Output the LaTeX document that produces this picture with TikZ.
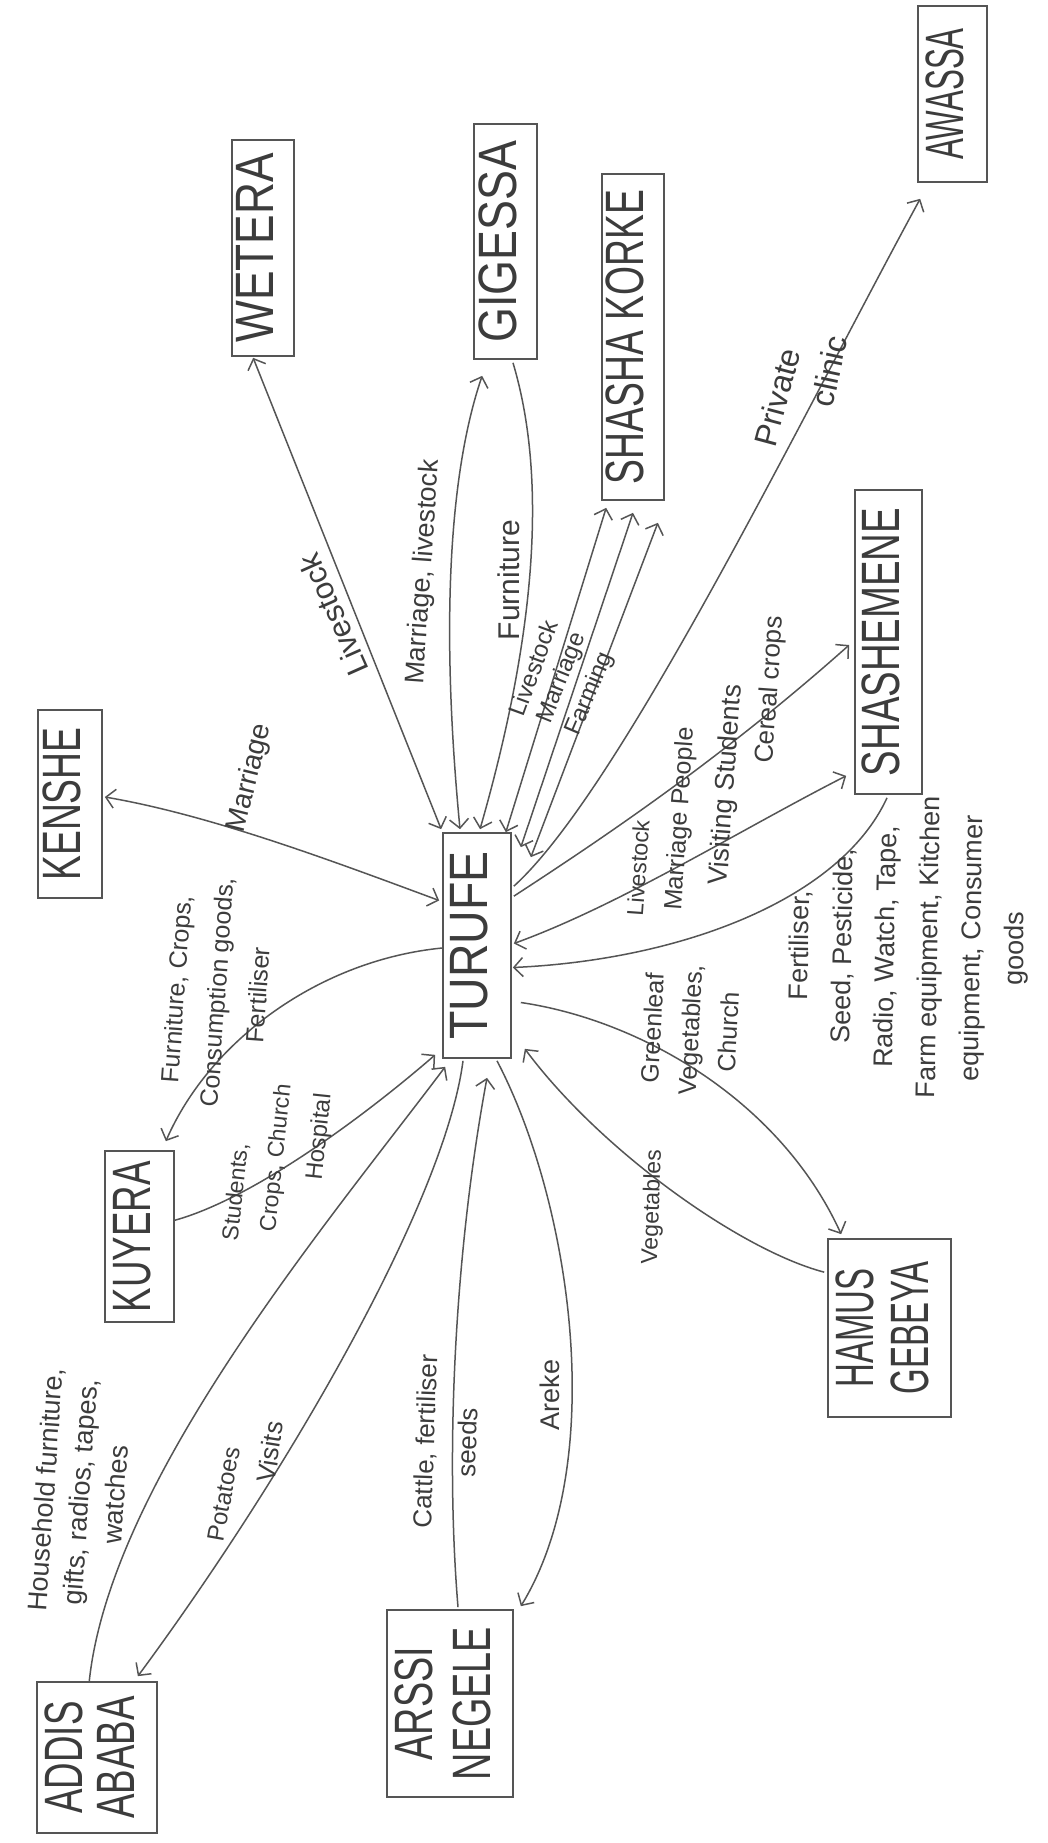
\documentclass[tikz,border=0pt]{standalone}
\usepackage{fontspec}
\setmainfont{Liberation Sans}
\usepackage{graphicx}
\usetikzlibrary{arrows.meta,calc}
\definecolor{ink}{HTML}{3C3C3C}
\definecolor{pencil}{HTML}{555555}
\newcommand{\lblsize}[2]{\fontsize{#1}{#2}\selectfont}
\newcommand{\plc}[2]{\rotatebox{90}{\scalebox{#1}[1]{\begin{tabular}{@{}c@{}}#2\end{tabular}}}}
\tikzset{
  place/.style={draw=pencil, line width=1.7pt, inner sep=0pt, text=ink, font=\lblsize{54}{54}},
  link/.style={draw=pencil, line width=1.5pt},
  fwd/.style={link, -{Straight Barb[length=9pt,width=19pt]}},
  both/.style={link, {Straight Barb[length=9pt,width=19pt]}-{Straight Barb[length=9pt,width=19pt]}},
  lab/.style={inner sep=0pt, text=ink, align=center}
}
\begin{document}
\begin{tikzpicture}[x=1pt,y=-1pt]
\fill[white] (0,0) rectangle (1048,1843);
\useasboundingbox (0,0) rectangle (1048,1843);

% places
\node[place, minimum width=62pt, minimum height=216pt] (wetera) at (263,248) {\plc{.82}{WETERA}};
\node[place, minimum width=63pt, minimum height=235pt] (gigessa) at (505.5,241.5) {\plc{.83}{GIGESSA}};
\node[place, minimum width=62pt, minimum height=326pt] (shasha) at (633,337) {\plc{.69}{SHASHA KORKE}};
\node[place, minimum width=69pt, minimum height=176pt] (awassa) at (952.5,94) {\plc{.58}{AWASSA}};
\node[place, minimum width=67pt, minimum height=304pt] (shashemene) at (888.5,642) {\plc{.71}{SHASHEMENE}};
\node[place, minimum width=64pt, minimum height=188pt] (kenshe) at (70,804) {\plc{.69}{KENSHE}};
\node[place, minimum width=68pt, minimum height=225pt] (turufe) at (477,945.5) {\plc{.86}{TURUFE}};
\node[place, minimum width=69pt, minimum height=171pt] (kuyera) at (139.5,1236.5) {\plc{.68}{KUYERA}};
\node[place, minimum width=120pt, minimum height=151pt, font=\lblsize{54}{50}] (addis) at (97,1757.5) {\plc{.68}{ADDIS\\ABABA}};
\node[place, minimum width=126pt, minimum height=187pt, font=\lblsize{54}{58}] (arssi) at (450,1703.5) {\plc{.70}{ARSSI\\NEGELE}};
\node[place, minimum width=123pt, minimum height=178pt, font=\lblsize{54}{55}] (hamus) at (889.5,1328) {\plc{.61}{HAMUS\\GEBEYA}};

% connectors
\draw[both] ($(wetera.south west)+(22,1)$) -- ($(turufe.north west)+(-1,-3)$);
\draw[both] ($(gigessa.south west)+(9,16)$) .. controls (450,470) and (440,620) .. ($(turufe.north)+(-17,-3)$);
\draw[fwd] ($(gigessa.south)+(7.5,3)$) .. controls (545,470) and (540,620) .. ($(turufe.north)+(3,-3)$);
\draw[both] ($(turufe.north east)+(-6,0)$) -- ($(shasha.south west)+(5,7)$);
\draw[both] ($(turufe.north east)+(9,15)$) -- ($(shasha.south)+(0,12)$);
\draw[both] ($(turufe.north east)+(19,25)$) -- ($(shasha.south east)+(-7,22)$);
\draw[fwd] ($(turufe.north east)+(2,54)$) .. controls (620,790) and (800,420) .. ($(awassa.south west)+(3,16)$);
\draw[fwd] ($(turufe.north east)+(2,64)$) .. controls (600,840) and (720,760) .. ($(shashemene.west)+(-5,3)$);
\draw[both] ($(turufe.east)+(2,-2)$) .. controls (620,905) and (740,830) .. ($(shashemene.south west)+(-8,-19)$);
\draw[fwd] ($(shashemene.south)+(-1.5,3)$) .. controls (840,900) and (680,960) .. ($(turufe.east)+(1,22)$);
\draw[fwd] ($(turufe.east)+(9,57)$) .. controls (640,1020) and (780,1100) .. ($(hamus.north west)+(14,-4)$);
\draw[fwd] ($(hamus.north west)+(-3,34)$) .. controls (740,1250) and (600,1150) .. ($(turufe.south east)+(13,-10)$);
\draw[fwd] ($(turufe.south)+(20,2)$) .. controls (570,1200) and (610,1460) .. ($(arssi.north east)+(7,-3)$);
\draw[fwd] ($(arssi.north)+(8,-2)$) .. controls (445,1450) and (455,1250) .. ($(turufe.south)+(10,19)$);
\draw[fwd] ($(turufe.south)+(-14,2)$) .. controls (445,1200) and (290,1470) .. ($(addis.north east)+(-20,-5)$);
\draw[fwd] ($(addis.north west)+(53,1)$) .. controls (110,1480) and (330,1220) .. ($(turufe.south west)+(3,8)$);
\draw[fwd] ($(kuyera.east)+(-1,-16)$) .. controls (250,1200) and (360,1120) .. ($(turufe.south west)+(-7,-4)$);
\draw[fwd] ($(turufe.west)+(0,2.5)$) .. controls (320,960) and (210,1040) .. ($(kuyera.north east)+(-9,-9)$);
\draw[both] ($(kenshe.east)+(2,-7)$) .. controls (210,815) and (330,860) .. ($(turufe.west)+(-3,-45)$);

% labels
\node[lab, rotate=114, font=\lblsize{31}{38}] (lwet) at (333,615) {Livestock};
\node[lab, rotate=86, font=\lblsize{27}{33}] (lgig1) at (424,572) {Marriage, livestock};
\node[lab, rotate=90, font=\lblsize{30}{36}] (lgig2) at (509,580) {Furniture};
\node[lab, rotate=70, font=\lblsize{24}{29}] (lsk1) at (533,668) {Livestock};
\node[lab, rotate=68, font=\lblsize{24}{29}] (lsk2) at (562,678) {Marriage};
\node[lab, rotate=67, font=\lblsize{24}{29}] (lsk3) at (590,694) {Farming};
\node[lab, rotate=75, font=\lblsize{32}{38}] (lawa1) at (777,397) {Private};
\node[lab, rotate=78, font=\lblsize{32}{38}] (lawa2) at (829,371) {clinic};
\node[lab, rotate=76, font=\lblsize{28}{34}] (lken) at (250,778) {Marriage};
\node[lab, rotate=86, font=\lblsize{25}{41}] (lkuy1) at (217,992) {Furniture, Crops,\\Consumption goods,\\Fertiliser};
\node[lab, rotate=84, font=\lblsize{23}{28}] (lkuy2) at (236,1192) {Students,};
\node[lab, rotate=84, font=\lblsize{23}{28}] (lkuy3) at (277,1158) {Crops, Church};
\node[lab, rotate=84, font=\lblsize{24}{28}] (lkuy4) at (320,1137) {Hospital};
\node[lab, rotate=86, font=\lblsize{27}{35}] (ladd1) at (80,1492) {Household furniture,\\gifts, radios, tapes,\\watches};
\node[lab, rotate=80, font=\lblsize{24}{30}] (ladd2) at (224,1494) {Potatoes};
\node[lab, rotate=81, font=\lblsize{26}{30}] (ladd3) at (270,1452) {Visits};
\node[lab, rotate=88, font=\lblsize{26}{42}] (lars1) at (446,1442) {Cattle, fertiliser\\seeds};
\node[lab, rotate=90, font=\lblsize{27}{32}] (lars2) at (550,1395) {Areke};
\node[lab, rotate=87, font=\lblsize{25}{38}] (lham1) at (690,1030) {Greenleaf\\Vegetables,\\Church};
\node[lab, rotate=88, font=\lblsize{23}{28}] (lham2) at (653,1207) {Vegetables};
\node[lab, rotate=86, font=\lblsize{23}{28}] (lsh1) at (638,868) {Livestock};
\node[lab, rotate=86, font=\lblsize{25}{30}] (lsh2) at (681,819) {Marriage People};
\node[lab, rotate=86, font=\lblsize{27}{32}] (lsh3) at (727,785) {Visiting Students};
\node[lab, rotate=86, font=\lblsize{26}{32}] (lsh4) at (771,690) {Cereal crops};
\node[lab, rotate=89, font=\lblsize{27}{43}] (lsh5) at (909,947) {Fertiliser,\\Seed, Pesticide,\\Radio, Watch, Tape,\\Farm equipment, Kitchen\\equipment, Consumer\\goods};
\end{tikzpicture}
\end{document}
